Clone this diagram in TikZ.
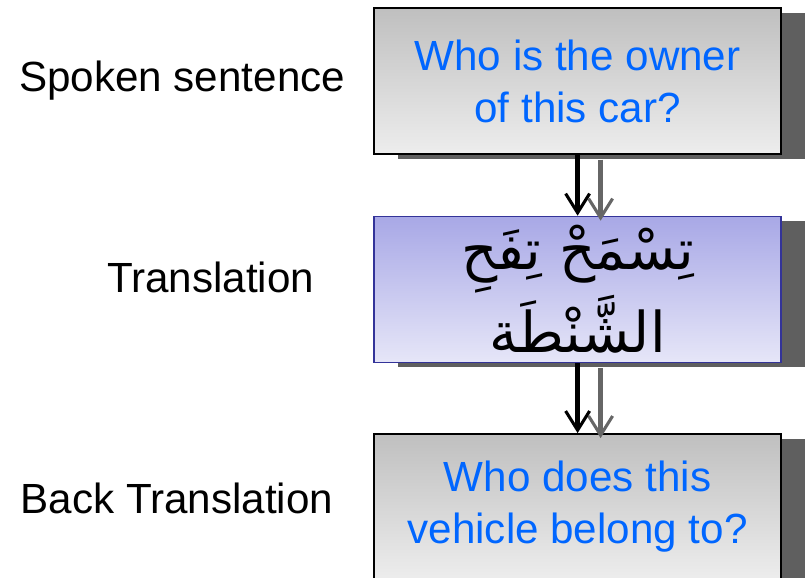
\documentclass[tikz,border=0pt]{standalone}
\usepackage{fontspec}
\setmainfont{Liberation Sans}
\newfontfamily\arabicfont[Script=Arabic]{DejaVu Sans}
\TeXXeTstate=1
\usepackage{tikz}
\usetikzlibrary{positioning,shadows,arrows.meta}
\definecolor{qblue}{RGB}{0,102,255}
\definecolor{shadegray}{RGB}{95,95,95}
\definecolor{arrowgray}{RGB}{102,102,102}
\definecolor{transborder}{RGB}{51,51,153}
\definecolor{transtop}{RGB}{168,168,230}
\definecolor{transbottom}{RGB}{230,230,248}
\tikzstyle{sentence} = [rectangle, minimum width=10.175cm, minimum height=3.65cm, text centered, align=center, draw=black, line width=1pt, top color=black!25, bottom color=black!7, text=qblue, font=\fontsize{30}{37}\selectfont, general shadow={fill=shadegray, shadow xshift=0.6cm, shadow yshift=-0.125cm}]
\tikzstyle{transbox} = [rectangle, minimum width=10.175cm, minimum height=3.65cm, text centered, align=center, draw=transborder, line width=1pt, top color=transtop, bottom color=transbottom, text=black, font=\arabicfont\fontsize{40}{53}\selectfont, general shadow={fill=shadegray, shadow xshift=0.6cm, shadow yshift=-0.125cm}]
\tikzstyle{stage} = [inner sep=0pt, font=\fontsize{30}{37}\selectfont]
\tikzstyle{arrow} = [line width=3pt, -{Straight Barb[length=0.48cm, width=0.6cm, line width=2.2pt]}]
\tikzstyle{arrowshade} = [arrow, draw=arrowgray, transform canvas={xshift=0.575cm, yshift=-0.125cm}]

\begin{document}
\begin{tikzpicture}
\useasboundingbox (0,0) rectangle (20.15,-14.425);

\node (spoken) [sentence] at (14.44,-2.025) {Who is the owner\\of this car?};
\node (trans) [transbox, below=1.525cm of spoken] {\beginR تِسْمَحْ تِفَحِ\endR\\\beginR الشَّنْطَة\endR};
\node (back) [sentence, below=1.75cm of trans] {Who does this\\vehicle belong to?};

\node (lspoken) [stage, left=0.7cm of spoken] {Spoken sentence};
\node (ltrans) [stage, left=1.475cm of trans, yshift=0.3cm] {Translation};
\node (lback) [stage, left=1cm of back, yshift=0.2cm] {Back Translation};

\draw [arrowshade] (spoken) -- (trans);
\draw [arrowshade] (trans) -- (back);
\draw [arrow] (spoken) -- (trans);
\draw [arrow] (trans) -- (back);
\end{tikzpicture}
\end{document}
